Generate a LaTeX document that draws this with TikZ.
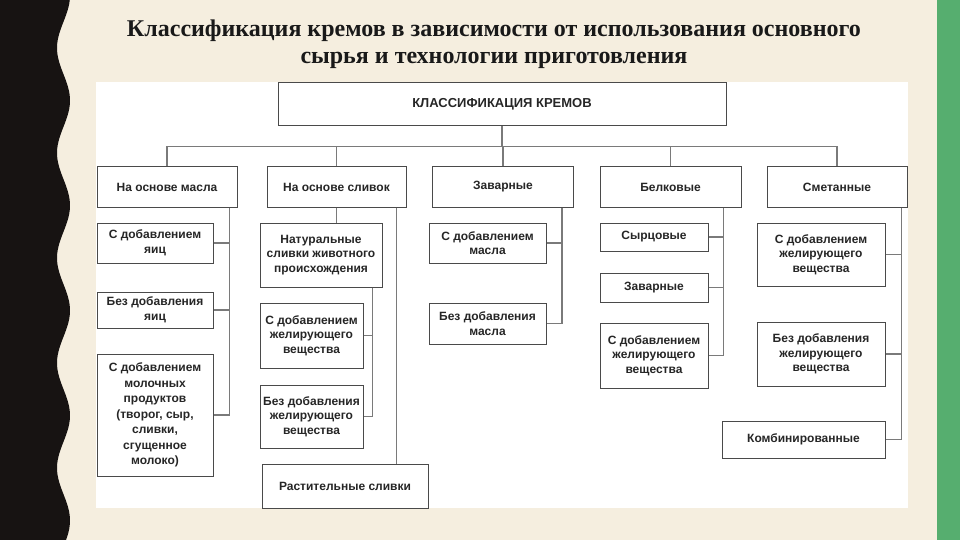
\documentclass[tikz,border=0pt]{standalone}
\usepackage{fontspec}
\setmainfont{Liberation Sans}
\newfontfamily\titlefont{Liberation Serif}
\definecolor{cream}{HTML}{F5EEDF}
\definecolor{wavebk}{HTML}{171312}
\definecolor{stripe}{HTML}{56AE6F}
\definecolor{boxline}{HTML}{4A4A4A}
\definecolor{linkgray}{HTML}{7A7A7A}

\begin{document}
\begin{tikzpicture}[x=1pt, y=-1pt,
  box/.style={draw=boxline, line width=1pt, fill=white, align=center,
    inner sep=1pt, text=black!85,
    font=\bfseries\fontsize{12}{14.5}\selectfont},
  link/.style={draw=linkgray, line width=1.3pt},
  heading/.style={font=\titlefont\bfseries\fontsize{24}{27}\selectfont,
    text=black!90, anchor=base}]

\useasboundingbox (0,0) rectangle (960,540);

%%%%%%%%%%%%%%%%%%%%%%%%%%%%%%% background
\fill[cream] (0,0) rectangle (960,540);
\fill[stripe] (937,0) rectangle (960,540);
\fill[wavebk] (0,0) -- plot[domain=0:540, samples=150]
  ({63.5-6.5*cos(3.4286*(\x-48))},\x) -- (0,540) -- cycle;
\fill[white] (96,82) rectangle (908,508);

%%%%%%%%%%%%%%%%%%%%%%%%%%%%%%% title
\node[heading] (title1) at (494,37)
  {Классификация кремов в зависимости от использования основного};
\node[heading] (title2) at (494,64)
  {сырья и технологии приготовления};

%%%%%%%%%%%%%%%%%%%%%%%%%%%%%%% top level
\node[box, minimum width=448pt, minimum height=43pt,
  font=\bfseries\fontsize{13}{15}\selectfont] (top) at (502,104.5)
  {КЛАССИФИКАЦИЯ КРЕМОВ};

\node[box, minimum width=140pt, minimum height=40pt] (maslo) at (167,187) {На основе масла};
\node[box, minimum width=139pt, minimum height=40pt] (slivki) at (336.5,187) {На основе сливок};
\node[box, minimum width=141pt, minimum height=40pt] (zavar) at (503,187) {Заварные};
\node[box, minimum width=141pt, minimum height=40pt] (belk) at (670.5,187) {Белковые};
\node[box, minimum width=140pt, minimum height=40pt] (smet) at (837,187) {Сметанные};

\path (maslo.north) ++(0,-20) coordinate (bus);
\draw[link] (maslo.north) |- (bus -| smet.north) -- (smet.north);
\draw[link] (top.south) -- (top.south |- bus);
\foreach \n in {slivki,zavar,belk}
  \draw[link] (\n.north) -- (\n.north |- bus);

%%%%%%%%%%%%%%%%%%%%%%%%%%%%%%% na osnove masla
\node[box, minimum width=116pt, minimum height=40pt] (yaic) at (155,243)
  {С добавлением\\яиц};
\node[box, minimum width=116pt, minimum height=36pt] (bezyaic) at (155,310)
  {Без добавления\\яиц};
\node[box, minimum width=116pt, minimum height=122pt,
  font=\bfseries\fontsize{12}{15.5}\selectfont] (moloch) at (155,415)
  {С добавлением\\молочных\\продуктов\\(творог, сыр,\\сливки,\\сгущенное\\молоко)};

\path (maslo.south east) ++(-8,0) coordinate (trmaslo);
\draw[link] (trmaslo) |- (moloch.east);
\foreach \n in {yaic,bezyaic}
  \draw[link] (\n.east) -- (\n.east -| trmaslo);

%%%%%%%%%%%%%%%%%%%%%%%%%%%%%%% na osnove slivok
\node[box, minimum width=122pt, minimum height=64pt] (natur) at (321,255)
  {Натуральные\\сливки животного\\происхождения};
\node[box, minimum width=103pt, minimum height=65pt] (sgelsl) at (311.5,335.5)
  {С добавлением\\желирующего\\вещества};
\node[box, minimum width=103pt, minimum height=63pt] (bgelsl) at (311.5,416.5)
  {Без добавления\\желирующего\\вещества};
\node[box, minimum width=166pt, minimum height=44pt] (rast) at (345,486)
  {Растительные сливки};

\draw[link] (slivki.south) -- (slivki.south |- natur.north);
\path (natur.south east) ++(-10,0) coordinate (trnatur);
\draw[link] (trnatur) |- (bgelsl.east);
\draw[link] (sgelsl.east) -- (sgelsl.east -| trnatur);
\path (slivki.south east) ++(-10,0) coordinate (trslivki);
\draw[link] (trslivki) -- (trslivki |- rast.north);

%%%%%%%%%%%%%%%%%%%%%%%%%%%%%%% zavarnye
\node[box, minimum width=117pt, minimum height=40pt] (smasl) at (487.5,243)
  {С добавлением\\масла};
\node[box, minimum width=117pt, minimum height=41pt] (bmasl) at (487.5,323.5)
  {Без добавления\\масла};

\path (zavar.south east) ++(-12,0) coordinate (trzavar);
\draw[link] (trzavar) |- (bmasl.east);
\draw[link] (smasl.east) -- (smasl.east -| trzavar);

%%%%%%%%%%%%%%%%%%%%%%%%%%%%%%% belkovye
\node[box, minimum width=108pt, minimum height=28pt] (syrc) at (654,237) {Сырцовые};
\node[box, minimum width=108pt, minimum height=29pt] (zavbel) at (654,287.5) {Заварные};
\node[box, minimum width=108pt, minimum height=65pt] (sgelbel) at (654,355.5)
  {С добавлением\\желирующего\\вещества};

\path (belk.south east) ++(-18,0) coordinate (trbelk);
\draw[link] (trbelk) |- (sgelbel.east);
\foreach \n in {syrc,zavbel}
  \draw[link] (\n.east) -- (\n.east -| trbelk);

%%%%%%%%%%%%%%%%%%%%%%%%%%%%%%% smetannye
\node[box, minimum width=128pt, minimum height=63pt] (sgelsm) at (821,254.5)
  {С добавлением\\желирующего\\вещества};
\node[box, minimum width=128pt, minimum height=64pt] (bgelsm) at (821,354)
  {Без добавления\\желирующего\\вещества};
\node[box, minimum width=163pt, minimum height=37pt] (komb) at (803.5,439.5)
  {Комбинированные};

\path (smet.south east) ++(-6,0) coordinate (trsmet);
\draw[link] (trsmet) |- (komb.east);
\foreach \n in {sgelsm,bgelsm}
  \draw[link] (\n.east) -- (\n.east -| trsmet);

\end{tikzpicture}
\end{document}
